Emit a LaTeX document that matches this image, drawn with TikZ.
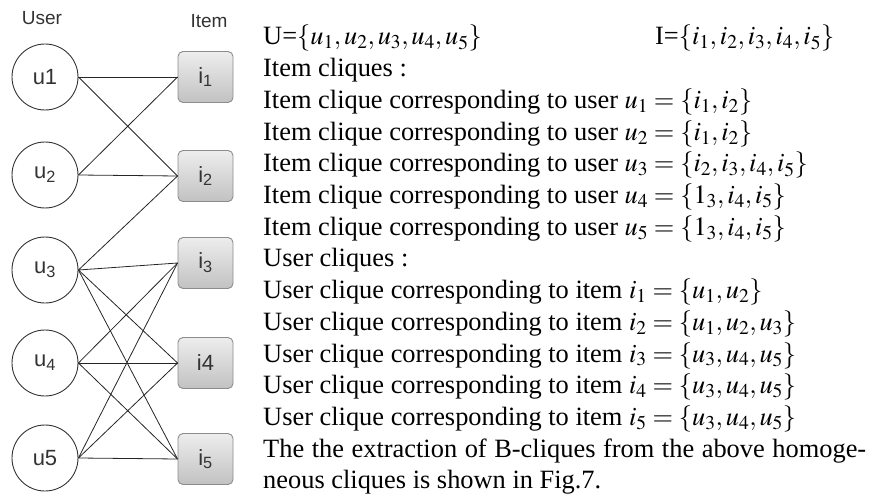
\documentclass[tikz,border=0pt]{standalone}
\usepackage{mathptmx}
\usepackage{fontspec}
\setmainfont{Liberation Serif}
\newfontfamily\arialf{Liberation Sans}
\begin{document}
\begin{tikzpicture}[x=1pt,y=-1pt,
  unode/.style={circle,draw=black!80,line width=0.9pt,minimum size=66pt,inner sep=0pt,
    font=\arialf\fontsize{22}{22}\selectfont,text=black!80},
  inode/.style={rectangle,rounded corners=5pt,draw=black!45,line width=0.9pt,
    top color=black!7,bottom color=black!24,minimum width=55pt,minimum height=51pt,
    inner sep=0pt,font=\arialf\fontsize{22}{22}\selectfont,text=black!80},
  edge/.style={draw=black!85,line width=0.8pt},
  head/.style={font=\arialf\fontsize{19}{19}\selectfont,text=black!80,inner sep=0pt},
  txt/.style={anchor=base west,inner sep=0pt,font=\fontsize{26.4}{31.7}\selectfont}]
\useasboundingbox (0,0) rectangle (881,500);
% headers
\node[head] (huser) at (42,18) {User};
\node[head] (hitem) at (209,21) {Item};
% users
\node[unode] (u1) at (45,77) {u1};
\node[unode] (u2) at (45,175) {u\textsubscript{2}};
\node[unode] (u3) at (45,270) {u\textsubscript{3}};
\node[unode] (u4) at (45,363) {u\textsubscript{4}};
\node[unode] (u5) at (45,458) {u5};
% items
\node[inode] (i1) at (205.5,77) {i\textsubscript{1}};
\node[inode] (i2) at (205.5,176) {i\textsubscript{2}};
\node[inode] (i3) at (205.5,263) {i\textsubscript{3}};
\node[inode] (i4) at (205.5,363) {i4};
\node[inode] (i5) at (205.5,459) {i\textsubscript{5}};
% edges
\foreach \a/\b in {u1/i1,u1/i2,u2/i1,u2/i2,u3/i2,u3/i3,u3/i4,u3/i5,u4/i3,u4/i4,u4/i5,u5/i3,u5/i4,u5/i5}
  \draw[edge] (\a.east) -- (\b.west);
% text
\node[txt] (t1) at (263,45) {U=$\{u_1,u_2,u_3,u_4,u_5\}$};
\node[txt] (t1b) at (655,45) {I=$\{i_1,i_2,i_3,i_4,i_5\}$};
\node[txt] (t2) at (263,76.7) {Item cliques :};
\node[txt] (t3) at (263,108.4) {Item clique corresponding to user $u_1=\{i_1,i_2\}$};
\node[txt] (t4) at (263,140.1) {Item clique corresponding to user $u_2=\{i_1,i_2\}$};
\node[txt] (t5) at (263,171.8) {Item clique corresponding to user $u_3=\{i_2,i_3,i_4,i_5\}$};
\node[txt] (t6) at (263,203.5) {Item clique corresponding to user $u_4=\{1_3,i_4,i_5\}$};
\node[txt] (t7) at (263,235.2) {Item clique corresponding to user $u_5=\{1_3,i_4,i_5\}$};
\node[txt] (t8) at (263,266.9) {User cliques :};
\node[txt] (t9) at (263,298.6) {User clique corresponding to item $i_1=\{u_1,u_2\}$};
\node[txt] (t10) at (263,330.3) {User clique corresponding to item $i_2=\{u_1,u_2,u_3\}$};
\node[txt] (t11) at (263,362.0) {User clique corresponding to item $i_3=\{u_3,u_4,u_5\}$};
\node[txt] (t12) at (263,393.7) {User clique corresponding to item $i_4=\{u_3,u_4,u_5\}$};
\node[txt] (t13) at (263,425.4) {User clique corresponding to item $i_5=\{u_3,u_4,u_5\}$};
\node[txt] (t14) at (263,457.1) {\makebox[603pt][s]{The the extraction of B-cliques from the above homoge-}};
\node[txt] (t15) at (263,488.8) {neous cliques is shown in Fig.7.};
\end{tikzpicture}
\end{document}
